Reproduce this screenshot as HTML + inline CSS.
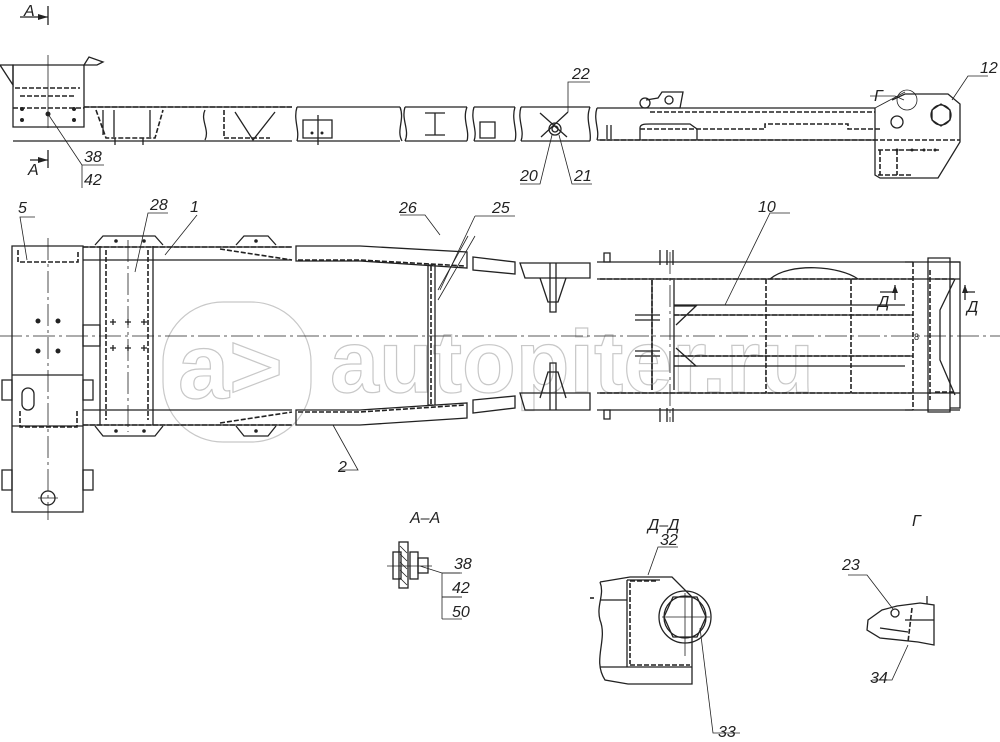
<!DOCTYPE html>
<html><head><meta charset="utf-8"><style>
html,body{margin:0;padding:0;background:#fff}
svg{display:block}
text{font-family:"Liberation Sans","DejaVu Sans",sans-serif;font-style:italic;font-size:16px;fill:#222}
.s{stroke:#222;stroke-width:1.3;fill:none}
.t{stroke:#222;stroke-width:0.8;fill:none}
.d{stroke:#222;stroke-width:1.6;fill:none;stroke-dasharray:5 2}
.c{stroke:#222;stroke-width:0.8;fill:none;stroke-dasharray:22 4 3 4}
</style></head><body>
<svg width="1000" height="742" viewBox="0 0 1000 742" xmlns="http://www.w3.org/2000/svg">
<!-- watermark -->
<g stroke="#c8c8c8" stroke-width="1.2" fill="none">
<rect x="163" y="302" width="148" height="140" rx="60"/>
<text x="178" y="398" style="font-size:92px;font-style:normal;font-weight:bold;fill:none;stroke:#c8c8c8;stroke-width:1.2">a&gt;</text>
<text x="330" y="392" style="font-size:88px;font-style:normal;font-weight:bold;fill:none;stroke:#c8c8c8;stroke-width:1.2">autopiter.ru</text>
</g>

<!-- ============ TOP (side) VIEW ============ -->
<!-- A section marks -->
<text x="24" y="16">A</text>
<path class="s" d="M20 17 H48 M48 6 V25"/><path d="M48 17 l-10 -3 v6z" fill="#222"/>
<text x="28" y="175">A</text>
<path class="s" d="M30 160 H48 M48 150 V168"/><path d="M48 160 l-10 -3 v6z" fill="#222"/>
<path class="t" d="M48 55 V128"/>
<!-- left end box -->
<path class="s" d="M13 65 H84 V127 H13 Z"/>
<path class="s" d="M0 65 L13 65 L13 85 Z M84 65 L97 65 L103 62 L89 57 L84 65 Z"/>
<path class="d" d="M15 88 H80 M20 96 H75 M13 108 H84"/>
<g fill="#222"><circle cx="22" cy="109" r="2"/><circle cx="48" cy="114" r="2.5"/><circle cx="74" cy="109" r="2"/><circle cx="22" cy="120" r="2"/><circle cx="74" cy="120" r="2"/></g>
<path class="t" d="M48 114 L82 165 V188 M82 165 H104"/>
<text x="84" y="162">38</text><text x="84" y="185">42</text>
<!-- main beam left portion -->
<path class="s" d="M13 141 H292 M84 107 H292"/>
<path class="d" d="M84 107 H292"/>
<path class="s" d="M103 110 V135 M114 110 V137 M150 110 V137 M205 110 C200 120 210 130 205 140"/>
<path class="s" d="M235 112 L253 140 L275 112"/>
<path class="d" d="M96 110 L106 138 H155 L163 110 M224 110 V138 H270"/>
<path class="s" d="M115 138 V145 M143 138 V145"/>
<!-- segment 297-402 -->
<path class="s" d="M297 107 H400 M297 141 H400 M297 107 C293 120 300 130 297 141 M400 107 C405 120 396 130 402 141"/>
<path class="s" d="M303 120 H332 V138 H303Z M318 115 V145"/>
<g fill="#222"><circle cx="312" cy="133" r="1.5"/><circle cx="322" cy="133" r="1.5"/></g>
<!-- segment 405-468 -->
<path class="s" d="M405 107 H467 M405 141 H467 M405 107 C401 120 410 130 405 141 M467 107 C462 120 470 130 467 141"/>
<path class="s" d="M425 113 H445 M435 113 V135 M425 135 H445"/>
<!-- segment 474-515 -->
<path class="s" d="M474 107 H515 M474 141 H515 M474 107 C470 120 478 130 474 141 M515 107 C511 120 518 130 515 141"/>
<path class="s" d="M480 122 H495 V138 H480Z"/>
<!-- segment 521-590 -->
<path class="s" d="M521 107 H590 M521 141 H590 M521 107 C517 120 525 130 521 141 M590 107 C585 120 592 130 590 141"/>
<path class="s" d="M540 113 L567 137 M541 137 L568 112"/>
<circle class="s" cx="555" cy="129" r="6"/><circle class="s" cx="555" cy="129" r="3"/>
<path class="t" d="M568 112 V82 H590 M552 135 L540 184 H520 M559 135 L572 184 H592"/>
<text x="572" y="79">22</text><text x="520" y="181">20</text><text x="574" y="181">21</text>
<!-- right portion -->
<path class="s" d="M597 108 H875 M597 140 H875 M597 108 C593 120 600 130 597 140"/>
<path class="d" d="M650 112 H875 M640 129 H765 V124 H848 V129 H880 M600 140 H960"/>
<path class="s" d="M607 125 V139 M611 125 V139"/>
<path class="s" d="M640 140 V128 C640 124 645 124 650 124 H690 L697 129 V140"/>
<path class="s" d="M646 100 L658 98 L662 92 L683 92 L680 108 L660 108"/>
<circle class="s" cx="645" cy="103" r="5"/><circle class="s" cx="669" cy="100" r="4"/>
<!-- right end box -->
<path class="s" d="M875 108 V175 L880 178 H938 L960 142 V104 L948 94 H905 L892 100"/>
<circle class="s" cx="897" cy="122" r="6"/>
<path class="s" d="M932 110 L941 104 L950 110 L950 120 L941 126 L932 120Z"/><circle class="s" cx="941" cy="115" r="10"/>
<path class="d" d="M878 150 H940 M878 175 H912 M880 150 V175 M897 150 V175"/>
<g fill="#222"><circle cx="897" cy="150" r="1.5"/><circle cx="912" cy="150" r="1.5"/><circle cx="924" cy="150" r="1.5"/><circle cx="935" cy="150" r="1.5"/></g>
<path class="t" d="M875 108 L905 92 M952 100 L968 76 H988 M904 100 L895 96 L870 96"/>
<circle class="t" cx="907" cy="100" r="10"/>
<text x="874" y="101">Г</text><text x="980" y="73">12</text>

<!-- ============ PLAN VIEW ============ -->
<path class="c" d="M0 336 H1000"/>
<!-- box 5 -->
<path class="s" d="M12 246 H83 V512 H12 Z M12 375 H83 M12 426 H83"/>
<path class="d" d="M18 250 V262 H78 V250 M20 411 V427 H77 V411"/>
<path class="c" d="M48 238 V520"/>
<g fill="#222"><circle cx="38" cy="321" r="2.5"/><circle cx="58" cy="321" r="2.5"/><circle cx="38" cy="351" r="2.5"/><circle cx="58" cy="351" r="2.5"/></g>
<rect class="s" x="22" y="388" width="12" height="22" rx="6"/>
<circle class="s" cx="48" cy="498" r="7"/><path class="t" d="M38 498 H58"/>
<path class="s" d="M2 380 H12 V400 H2Z M83 380 H93 V400 H83Z M2 470 H12 V490 H2Z M83 470 H93 V490 H83Z M83 325 H100 V346 H83Z"/>
<path class="t" d="M27 260 L20 217 H35"/><text x="18" y="213">5</text>
<!-- rails left part -->
<path class="s" d="M83 247 H292 M83 260 H292 M83 410 H292 M83 425 H292"/>
<path class="d" d="M83 247 H292 M220 249 L292 260 M83 425 H292 M220 423 L292 412"/>
<!-- crossmember 28 -->
<path class="s" d="M100 246 V425 M153 246 V425"/>
<path class="d" d="M106 250 V420 M148 250 V420"/>
<path class="c" d="M128 240 V432"/>
<path class="s" d="M95 245 L103 236 H155 L163 245 M95 426 L103 436 H155 L163 426"/>
<g fill="#222"><circle cx="116" cy="241" r="1.8"/><circle cx="144" cy="241" r="1.8"/><circle cx="116" cy="431" r="1.8"/><circle cx="144" cy="431" r="1.8"/></g>
<path class="s" d="M110 322 h6 m-3 -3 v6 M125 322 h6 m-3 -3 v6 M141 322 h6 m-3 -3 v6 M110 348 h6 m-3 -3 v6 M125 348 h6 m-3 -3 v6 M141 348 h6 m-3 -3 v6"/>
<path class="t" d="M135 272 L148 213 H168"/><text x="150" y="210">28</text>
<path class="t" d="M165 255 L197 215"/><text x="190" y="212">1</text>
<!-- brackets at x 236-276 -->
<path class="s" d="M236 245 L244 236 H268 L276 245 M236 426 L244 436 H268 L276 426"/>
<g fill="#222"><circle cx="256" cy="241" r="1.8"/><circle cx="256" cy="431" r="1.8"/></g>
<!-- rails middle 296-467 -->
<path class="s" d="M296 246 H360 L467 252 V268 L360 261 H296 Z M296 410 H360 L467 403 V418 L360 425 H296 Z"/>
<path class="d" d="M298 260 H360 L465 266 M298 412 H360 L465 405"/>
<path class="s" d="M428 265 V405 M435 265 V405 M428 265 H433 M428 405 H433"/>
<path class="d" d="M431 266 V404"/>
<path class="t" d="M438 290 L468 236 M438 300 L475 236 M440 235 L425 215 H400"/>
<text x="399" y="213">26</text><text x="492" y="213">25</text><path class="t" d="M475 216 H515 M475 216 L440 290"/>
<path class="t" d="M333 425 L358 470 H340"/><text x="338" y="472">2</text>
<!-- small segments -->
<path class="s" d="M473 257 L515 262 V274 L473 270Z M473 400 L515 396 V408 L473 413Z"/>
<path class="s" d="M520 263 H590 V278 H525Z M520 393 H590 V410 H525Z"/>
<path class="s" d="M550 263 V312 H556 V263 M540 278 L548 302 H558 L566 278"/>
<path class="s" d="M550 410 V363 H556 V410 M540 398 L548 372 H558 L566 398"/>
<!-- right portion rails -->
<path class="s" d="M597 262 H960 M597 279 H960 M597 393 H960 M597 410 H960"/>
<path class="d" d="M600 279 H912 M600 393 H912"/>
<path class="s" d="M770 279 C790 262 840 266 858 279"/>
<path class="s" d="M604 253 h6 v9 h-6z M604 410 h6 v9 h-6z"/>
<path class="s" d="M660 250 V265 M667 250 V265 M673 250 V265 M660 408 V422 M667 408 V422 M673 408 V422"/>
<path class="c" d="M670 252 V422"/>
<path class="s" d="M652 280 V390 M674 280 V390"/>
<path class="d" d="M652 280 V390"/>
<path class="s" d="M674 305 H905 M674 315 H913 M674 356 H913 M674 366 H905"/>
<path class="d" d="M674 315 H913 M674 356 H913"/>
<path class="s" d="M635 315 H660 M635 320 H660 M635 351 H660 M635 356 H660"/>
<path class="s" d="M674 306 H696 L676 325 M674 366 H696 L676 348"/>
<path class="d" d="M766 279 V393 M851 279 V393 M913 262 V410"/>
<path class="s" d="M928 258 H950 V412 H928Z M950 262 H960 V408 H950 M905 262 H913 M905 410 H913"/>
<path class="d" d="M930 270 V400 M935 279 H955 M935 392 H955"/>
<path class="s" d="M955 279 L940 310 V360 L955 395"/>
<path class="t" d="M725 305 L770 213 H790"/><text x="758" y="212">10</text>
<path class="s" d="M895 285 V300 M880 292 H895 M965 285 V300 M965 292 H975"/>
<path d="M895 285 l-3 8 h6z M965 285 l-3 8 h6z" fill="#222"/>
<text x="878" y="307">Д</text><text x="967" y="312">Д</text>
<text x="914" y="340" style="font-size:9px;font-style:normal">8</text>

<!-- ============ A-A ============ -->
<text x="410" y="523">A–A</text>
<rect class="s" x="399" y="542" width="9" height="46"/>
<path class="t" d="M400 546 l7 7 M400 554 l7 7 M400 562 l7 7 M400 570 l7 7 M400 578 l7 7"/>
<rect class="s" x="393" y="552" width="8" height="27"/><rect class="s" x="410" y="552" width="8" height="27"/><rect class="s" x="418" y="558" width="10" height="15"/>
<path class="t" d="M387 566 H432 M420 566 L442 573 H460 M442 573 V619"/>
<path class="t" d="M442 597 H462"/>
<text x="454" y="569">38</text><text x="452" y="593">42</text><text x="452" y="617">50</text>
<path class="t" d="M442 597 H462 M442 573 H462 M442 619 H462"/>

<!-- ============ Д-Д ============ -->
<text x="648" y="530">Д–Д</text>
<path class="s" d="M600 582 L630 577 H672 L692 597 V684 H628 L605 680 C592 660 608 640 600 620 C596 605 605 595 600 582"/>
<path class="d" d="M594 598 H590"/>
<path class="s" d="M627 580 V667 M627 580 H660 M627 667 H692 M600 600 H627 M600 667 H627"/>
<path class="d" d="M630 583 V664 M630 581 H658 M630 665 H690"/>
<circle class="s" cx="685" cy="617" r="26"/><circle class="s" cx="685" cy="617" r="21"/>
<path class="s" d="M673 597 H697 L706 617 L697 637 H673 L664 617 Z"/>
<path class="t" d="M662 617 H710 M685 593 V656 M648 575 L658 547 H678"/>
<text x="660" y="545">32</text>
<path class="t" d="M700 628 L713 733 H740"/><text x="718" y="737">33</text>

<!-- ============ Г ============ -->
<text x="912" y="526">Г</text>
<path class="s" d="M868 620 L882 610 L897 606 L920 603 L934 605 V645 L918 642 L880 638 L867 630 Z"/>
<path class="d" d="M912 608 L908 642"/>
<path class="s" d="M905 620 H934 M880 628 L908 632 M927 596 V604"/>
<circle class="s" cx="895" cy="613" r="4"/>
<path class="t" d="M893 609 L867 575 H848 M908 645 L892 680 H872"/>
<text x="842" y="570">23</text><text x="870" y="683">34</text>
</svg>
</body></html>
